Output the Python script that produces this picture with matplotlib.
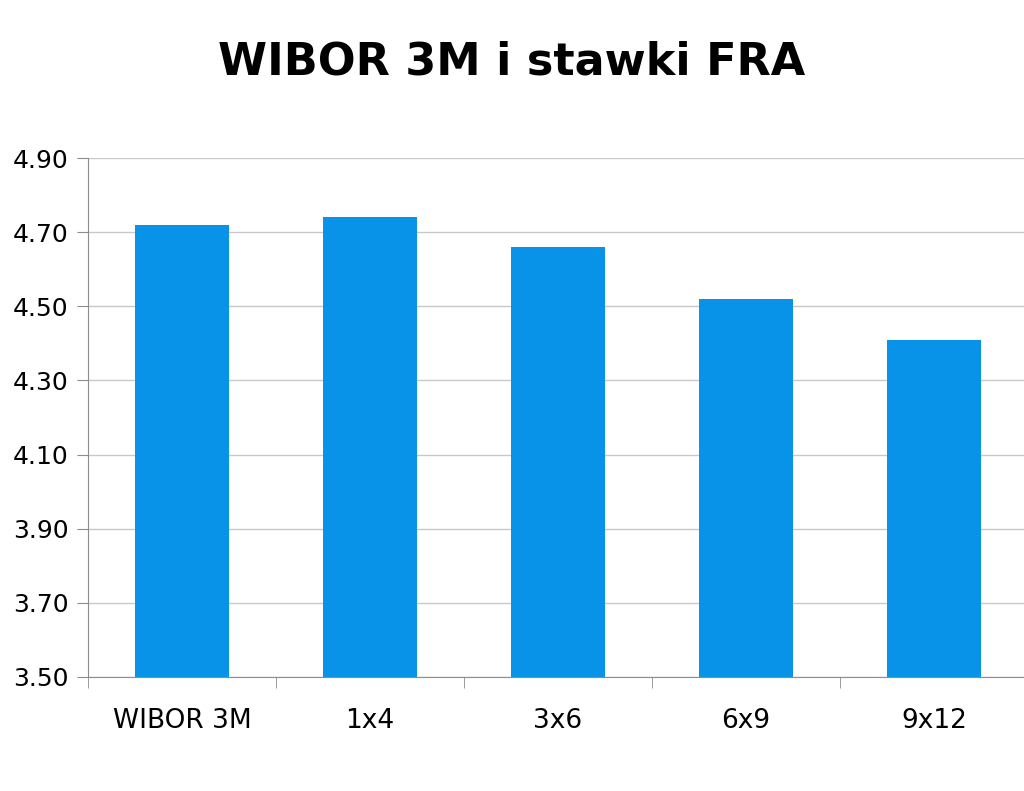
import matplotlib.pyplot as plt
import numpy as np

categories = ["WIBOR 3M", "1x4", "3x6", "6x9", "9x12"]
rates = [4.72, 4.74, 4.66, 4.52, 4.41]
yticks = [3.50, 3.70, 3.90, 4.10, 4.30, 4.50, 4.70, 4.90]

fig = plt.figure(figsize=(10.24, 7.91), dpi=100)
ax = fig.add_axes([88 / 1024, 1 - 677 / 791, 940 / 1024, 519 / 791])

x = np.arange(len(categories))
ax.bar(x, rates, width=0.5, color='#0893E9', zorder=3)

ax.set_xlim(-0.5, len(categories) - 0.5)
ax.set_ylim(3.5, 4.9)
ax.set_yticks(yticks)
ax.set_yticklabels([f"{v:.2f}" for v in yticks])
ax.set_xticks(x)
ax.set_xticklabels(categories)
ax.set_xticks(np.arange(-0.5, len(categories)), minor=True)

ax.grid(axis='y', color='#C8C8C8', linewidth=1, zorder=0)
for side in ['top', 'right']:
    ax.spines[side].set_visible(False)
for side in ['left', 'bottom']:
    ax.spines[side].set_color('#8C8C8C')

ax.tick_params(axis='y', length=8, color='#8C8C8C', labelsize=18, pad=6)
ax.tick_params(axis='x', which='major', length=0, labelsize=19, pad=22)
ax.tick_params(axis='x', which='minor', length=8, color='#8C8C8C')

fig.text(0.5, 0.921, "WIBOR 3M i stawki FRA", ha='center', va='center',
         fontsize=32, fontweight='bold')

fig.savefig("out.png", dpi=100)
